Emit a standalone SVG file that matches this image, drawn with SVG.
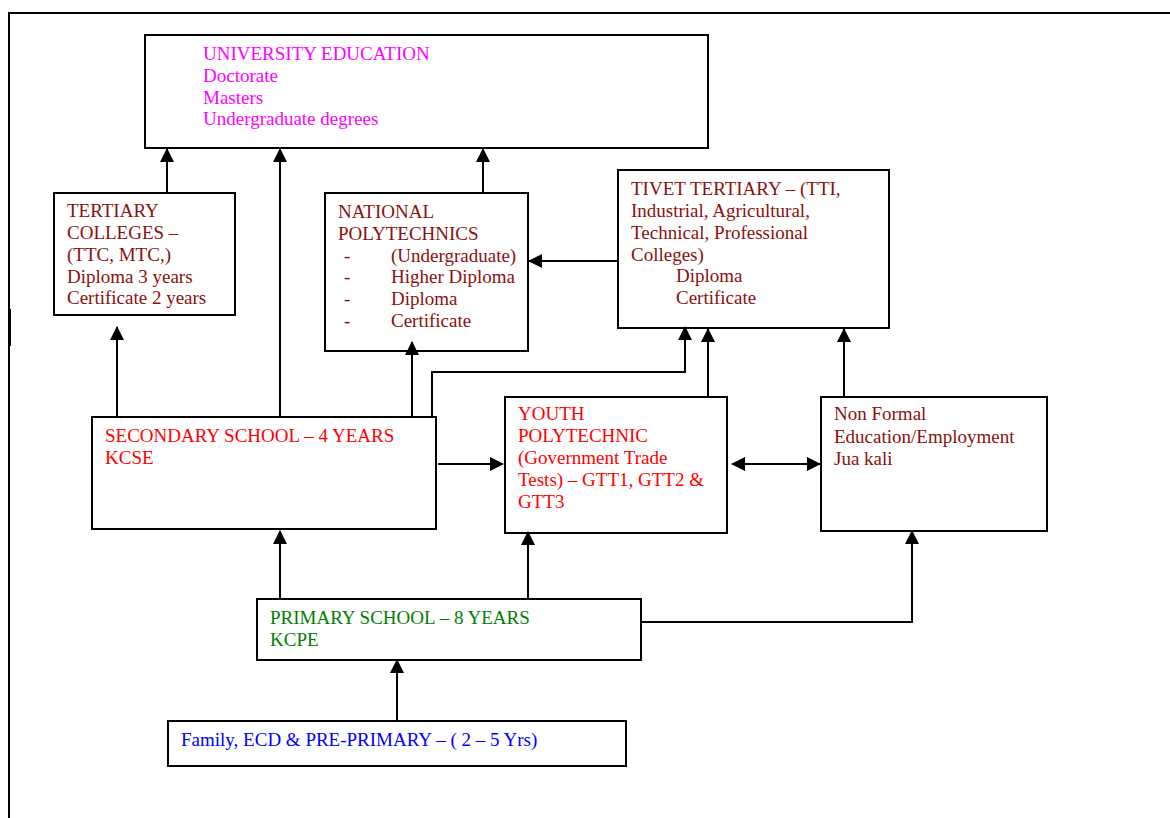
<svg xmlns="http://www.w3.org/2000/svg" width="1170" height="818" viewBox="0 0 1170 818">
<style>
text{font-family:"Liberation Serif","Times New Roman",serif;font-size:19px}
.box{fill:#fff;stroke:#000;stroke-width:2}
.ln{fill:none;stroke:#000;stroke-width:2}
.mag{fill:#ff00ff}.dr{fill:#8b1010}.red{fill:#ff0000}.grn{fill:#008000}.blu{fill:#0000ff}
</style>
<defs>
<marker id="ah" markerWidth="14" markerHeight="14" refX="13" refY="7" orient="auto" markerUnits="userSpaceOnUse">
<path d="M0,0 L14,7 L0,14 Z" fill="#000"/>
</marker>
<marker id="as" markerWidth="14" markerHeight="14" refX="1" refY="7" orient="auto" markerUnits="userSpaceOnUse">
<path d="M14,0 L0,7 L14,14 Z" fill="#000"/>
</marker>
</defs>
<rect width="1170" height="818" fill="#fff"/>
<g id="frame">
<path d="M9,830 L9,13 L1180,13" class="ln"/>
<rect x="8.5" y="309" width="2.5" height="37" fill="#000"/>
</g>
<g id="university">
<rect class="box" x="145" y="35" width="563" height="113"/>
<text class="mag" x="203" y="60">UNIVERSITY EDUCATION</text>
<text class="mag" x="203" y="82">Doctorate</text>
<text class="mag" x="203" y="104">Masters</text>
<text class="mag" x="203" y="125">Undergraduate degrees</text>
</g>
<g id="tertiary">
<rect class="box" x="54" y="193" width="181" height="122"/>
<text class="dr" x="67" y="217">TERTIARY</text>
<text class="dr" x="67" y="239">COLLEGES –</text>
<text class="dr" x="67" y="261">(TTC, MTC,)</text>
<text class="dr" x="67" y="283">Diploma 3 years</text>
<text class="dr" x="67" y="304">Certificate 2 years</text>
</g>
<g id="national">
<rect class="box" x="325" y="193" width="203" height="158"/>
<text class="dr" x="338" y="218">NATIONAL</text>
<text class="dr" x="338" y="240">POLYTECHNICS</text>
<text class="dr" x="344" y="262">-</text><text class="dr" x="391" y="262">(Undergraduate)</text>
<text class="dr" x="344" y="283">-</text><text class="dr" x="391" y="283">Higher Diploma</text>
<text class="dr" x="344" y="305">-</text><text class="dr" x="391" y="305">Diploma</text>
<text class="dr" x="344" y="327">-</text><text class="dr" x="391" y="327">Certificate</text>
</g>
<g id="tivet">
<rect class="box" x="618" y="170" width="271" height="158"/>
<text class="dr" x="631" y="195">TIVET TERTIARY – (TTI,</text>
<text class="dr" x="631" y="217">Industrial, Agricultural,</text>
<text class="dr" x="631" y="239">Technical, Professional</text>
<text class="dr" x="631" y="261">Colleges)</text>
<text class="dr" x="676" y="282">Diploma</text>
<text class="dr" x="676" y="304">Certificate</text>
</g>
<g id="secondary">
<rect class="box" x="92" y="417" width="344" height="112"/>
<text class="red" x="105" y="442">SECONDARY SCHOOL – 4 YEARS</text>
<text class="red" x="105" y="464">KCSE</text>
</g>
<g id="youth">
<rect class="box" x="505" y="397" width="222" height="136"/>
<text class="red" x="518" y="420">YOUTH</text>
<text class="red" x="518" y="442">POLYTECHNIC</text>
<text class="red" x="518" y="464">(Government Trade</text>
<text class="red" x="518" y="486">Tests) – GTT1, GTT2 &amp;</text>
<text class="red" x="518" y="508">GTT3</text>
</g>
<g id="nonformal">
<rect class="box" x="821" y="397" width="226" height="134"/>
<text class="dr" x="834" y="420">Non Formal</text>
<text class="dr" x="834" y="443">Education/Employment</text>
<text class="dr" x="834" y="465">Jua kali</text>
</g>
<g id="primary">
<rect class="box" x="257" y="599" width="384" height="61"/>
<text class="grn" x="270" y="624">PRIMARY SCHOOL – 8 YEARS</text>
<text class="grn" x="270" y="646">KCPE</text>
</g>
<g id="family">
<rect class="box" x="168" y="721" width="458" height="45"/>
<text class="blu" x="181" y="746">Family, ECD &amp; PRE-PRIMARY – ( 2 – 5 Yrs)</text>
</g>
<g id="connectors">
<path class="ln" marker-end="url(#ah)" d="M167,193 L167,149"/>
<path class="ln" marker-end="url(#ah)" d="M280,417 L280,149"/>
<path class="ln" marker-end="url(#ah)" d="M483,193 L483,149"/>
<path class="ln" marker-end="url(#ah)" d="M618,261 L529,261"/>
<path class="ln" marker-end="url(#ah)" d="M117,416 L117,327"/>
<path class="ln" marker-end="url(#ah)" d="M412,416 L412,342"/>
<path class="ln" marker-end="url(#ah)" d="M432,416 L432,372 L685,372 L685,327"/>
<path class="ln" marker-end="url(#ah)" d="M708,396 L708,329"/>
<path class="ln" marker-end="url(#ah)" d="M844,396 L844,329"/>
<path class="ln" marker-end="url(#ah)" d="M438,464 L503,464"/>
<path class="ln" marker-start="url(#as)" marker-end="url(#ah)" d="M732,464 L820,464"/>
<path class="ln" marker-end="url(#ah)" d="M280,598 L280,531"/>
<path class="ln" marker-end="url(#ah)" d="M528,598 L528,532"/>
<path class="ln" marker-end="url(#ah)" d="M642,622 L912,622 L912,531"/>
<path class="ln" marker-end="url(#ah)" d="M397,720 L397,660"/>
</g>
</svg>
